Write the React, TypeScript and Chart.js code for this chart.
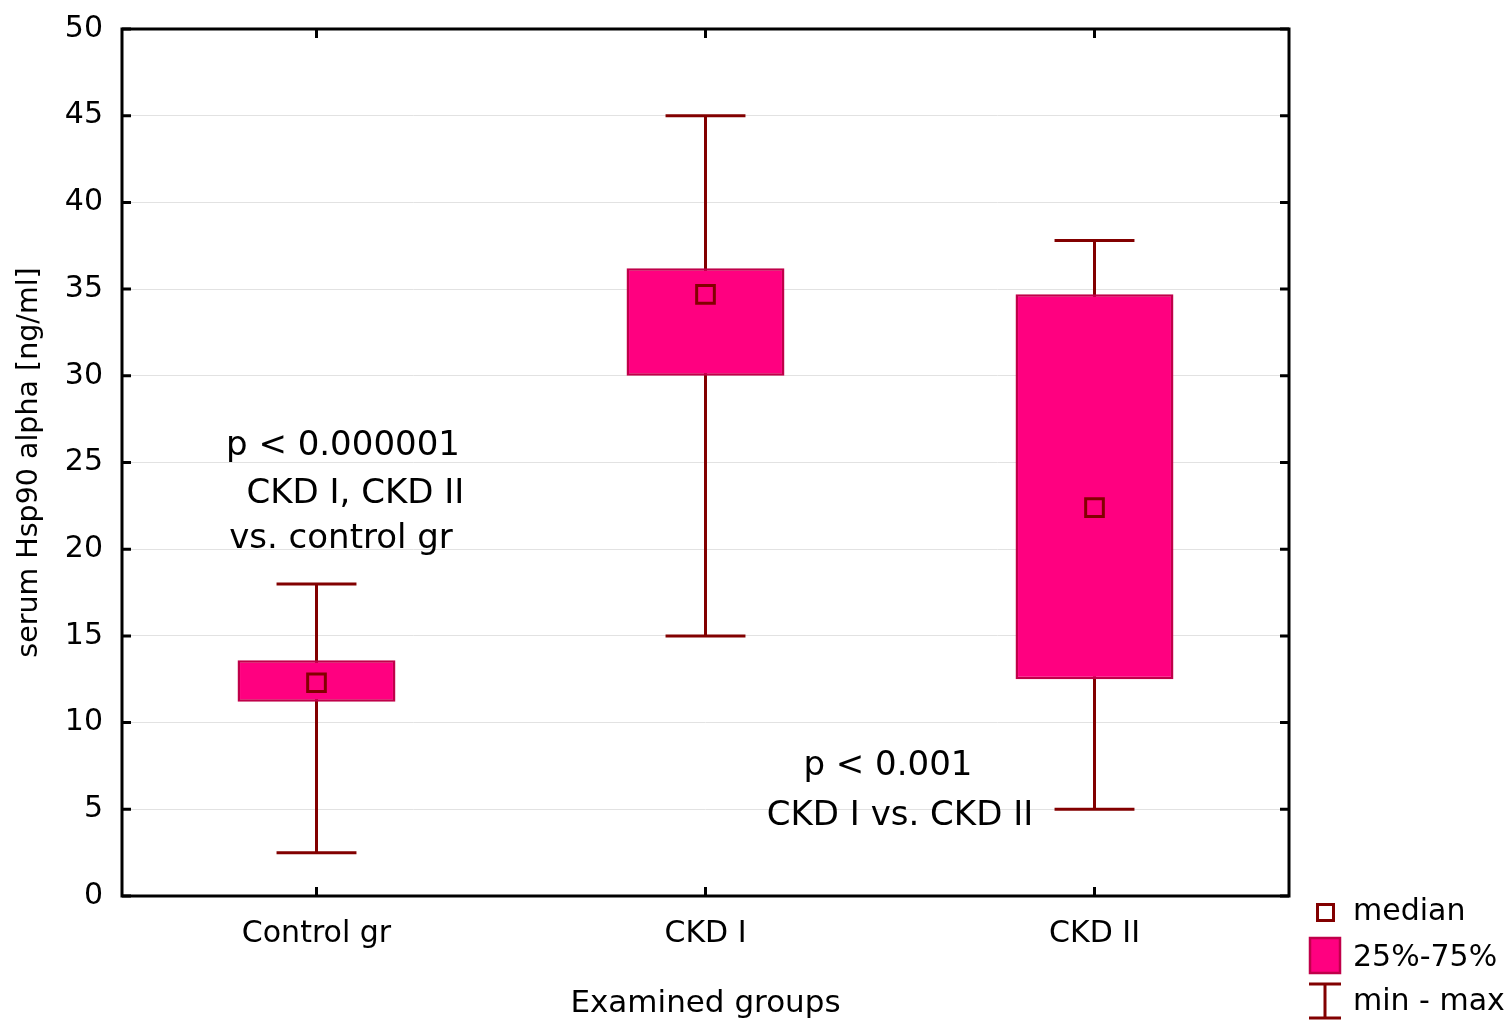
import React, { useEffect, useRef } from "react";
import { Chart, registerables } from "chart.js";

Chart.register(...registerables);

// ---------- data ----------
const categories = ["Control gr", "CKD I", "CKD II"];
const minValues = [2.5, 15, 5];
const q1Values = [11.2, 30, 12.5];
const medianValues = [12.3, 34.7, 22.4];
const q3Values = [13.6, 36.2, 34.7];
const maxValues = [18, 45, 37.8];

const yMin = 0;
const yMax = 50;
const yStep = 5;

const yTitle = "serum Hsp90 alpha [ng/ml]";
const xTitle = "Examined groups";

// annotation text, anchored in data coordinates (fractional category index, value at baseline)
const annotationTexts = ["p < 0.000001", "CKD I, CKD II", "vs. control gr", "p < 0.001", "CKD I vs. CKD II"];
const annotationX = [0.068, 0.1, 0.063, 1.469, 1.5];
const annotationY = [25.43, 22.66, 20.07, 6.98, 4.09];

const legendLabels = ["median", "25%-75%", "min - max"];

// ---------- styles ----------
const FONT = "'DejaVu Sans', 'Liberation Sans', Arial, sans-serif";
const BOX_FILL = "#FF0080";
const BOX_BORDER = "#C0004A";
const WHISKER = "#820000";

const extrasPlugin = {
  id: "boxExtras",
  beforeDatasetsDraw(chart: any) {
    const ctx = chart.ctx;
    const xs = chart.scales.x;
    const ys = chart.scales.y;
    const barMeta = chart.getDatasetMeta(1);
    ctx.save();
    ctx.strokeStyle = WHISKER;
    ctx.lineWidth = 3;
    ctx.lineCap = "butt";
    for (let i = 0; i < categories.length; i++) {
      const x = xs.getPixelForValue(i);
      const bw = barMeta.data[i] ? barMeta.data[i].width : 150;
      const half = bw * 0.253;
      const yTop = ys.getPixelForValue(maxValues[i]);
      const yBot = ys.getPixelForValue(minValues[i]);
      ctx.beginPath();
      ctx.moveTo(x, yTop);
      ctx.lineTo(x, yBot);
      ctx.moveTo(x - half, yTop);
      ctx.lineTo(x + half, yTop);
      ctx.moveTo(x - half, yBot);
      ctx.lineTo(x + half, yBot);
      ctx.stroke();
    }
    ctx.restore();
  },
  afterDraw(chart: any) {
    const ctx = chart.ctx;
    const xs = chart.scales.x;
    const ys = chart.scales.y;
    const { left, right, top, bottom } = chart.chartArea;
    ctx.save();
    // inward ticks
    ctx.strokeStyle = "#000";
    ctx.lineWidth = 3;
    ctx.beginPath();
    ys.ticks.forEach((t: any) => {
      const y = ys.getPixelForValue(t.value);
      ctx.moveTo(left, y);
      ctx.lineTo(left + 9, y);
      ctx.moveTo(right, y);
      ctx.lineTo(right - 9, y);
    });
    for (let i = 0; i < categories.length; i++) {
      const x = xs.getPixelForValue(i);
      ctx.moveTo(x, bottom);
      ctx.lineTo(x, bottom - 9);
      ctx.moveTo(x, top);
      ctx.lineTo(x, top + 9);
    }
    ctx.stroke();
    // frame
    ctx.lineWidth = 3;
    ctx.strokeRect(left, top, right - left, bottom - top);

    // annotations
    ctx.fillStyle = "#000";
    ctx.font = `34px ${FONT}`;
    ctx.textAlign = "center";
    ctx.textBaseline = "alphabetic";
    for (let i = 0; i < annotationTexts.length; i++) {
      ctx.fillText(annotationTexts[i], xs.getPixelForValue(annotationX[i]), ys.getPixelForValue(annotationY[i]));
    }

    // legend (outside plot, bottom right)
    const lx = right + 20;
    ctx.font = `30px ${FONT}`;
    ctx.textAlign = "left";
    ctx.textBaseline = "middle";
    // median
    ctx.fillStyle = "#fff";
    ctx.strokeStyle = WHISKER;
    ctx.lineWidth = 3;
    ctx.fillRect(lx + 8.5, 904.5, 16, 16);
    ctx.strokeRect(lx + 8.5, 904.5, 16, 16);
    ctx.fillStyle = "#000";
    ctx.fillText(legendLabels[0], lx + 44, 912);
    // box
    ctx.fillStyle = BOX_FILL;
    ctx.strokeStyle = BOX_BORDER;
    ctx.lineWidth = 2.5;
    ctx.fillRect(lx + 1, 938, 30, 35);
    ctx.strokeRect(lx + 1, 938, 30, 35);
    ctx.fillStyle = "#000";
    ctx.fillText(legendLabels[1], lx + 44, 958);
    // whisker
    ctx.strokeStyle = WHISKER;
    ctx.lineWidth = 3;
    ctx.beginPath();
    ctx.moveTo(lx + 16, 984);
    ctx.lineTo(lx + 16, 1018);
    ctx.moveTo(lx, 984);
    ctx.lineTo(lx + 32, 984);
    ctx.moveTo(lx, 1018);
    ctx.lineTo(lx + 32, 1018);
    ctx.stroke();
    ctx.fillStyle = "#000";
    ctx.fillText(legendLabels[2], lx + 44, 1002);
    ctx.restore();
  },
};

export default function App() {
  const canvasRef = useRef<HTMLCanvasElement | null>(null);

  useEffect(() => {
    const canvas = canvasRef.current;
    if (!canvas) return;
    const boxData = q1Values.map((q1, i) => [q1, q3Values[i]]);
    const chart = new Chart(canvas, {
      type: "bar",
      data: {
        labels: categories,
        datasets: [
          {
            type: "line",
            label: "median",
            data: medianValues,
            showLine: false,
            pointStyle: "rect",
            pointRadius: 12.5,
            pointHoverRadius: 12.5,
            pointBackgroundColor: "rgba(0,0,0,0)",
            pointBorderColor: WHISKER,
            pointBorderWidth: 3,
            order: 0,
          } as any,
          {
            type: "bar",
            label: "25%-75%",
            data: boxData as any,
            backgroundColor: BOX_FILL,
            borderColor: BOX_BORDER,
            borderWidth: 2.5,
            borderSkipped: false,
            categoryPercentage: 1,
            barPercentage: 0.406,
            order: 1,
          } as any,
        ],
      },
      options: {
        responsive: false,
        animation: false,
        devicePixelRatio: 1,
        layout: { padding: { top: 29, right: 221, left: 0, bottom: 0 } },
        plugins: {
          legend: { display: false },
          tooltip: { enabled: false },
        },
        scales: {
          x: {
            type: "category",
            offset: true,
            grid: { display: false, drawTicks: false },
            border: { display: false },
            ticks: { color: "#000", font: { family: FONT, size: 30 }, padding: 20 },
            title: {
              display: true,
              text: xTitle,
              color: "#000",
              font: { family: FONT, size: 31 },
              padding: { top: 0, bottom: 0 },
            },
            afterFit(scale: any) {
              scale.height = 127;
              scale.paddingLeft = 0;
              scale.paddingRight = 0;
            },
          },
          y: {
            type: "linear",
            min: yMin,
            max: yMax,
            grid: { color: "#e2e2e2", lineWidth: 1, drawTicks: false },
            border: { display: false },
            ticks: {
              stepSize: yStep,
              color: "#000",
              font: { family: FONT, size: 30 },
              padding: 19,
            },
            title: {
              display: true,
              text: yTitle,
              color: "#000",
              font: { family: FONT, size: 28.5 },
              padding: { top: 12, bottom: 0 },
            },
            afterFit(scale: any) {
              scale.width = 122;
              scale.paddingTop = 0;
              scale.paddingBottom = 0;
            },
          },
        },
      },
      plugins: [extrasPlugin],
    });
    return () => chart.destroy();
  }, []);

  return (
    <div style={{ position: "absolute", left: 0, top: 0, width: 1510, height: 1023, background: "#fff" }}>
      <canvas ref={canvasRef} width={1510} height={1023} style={{ display: "block" }} />
    </div>
  );
}
